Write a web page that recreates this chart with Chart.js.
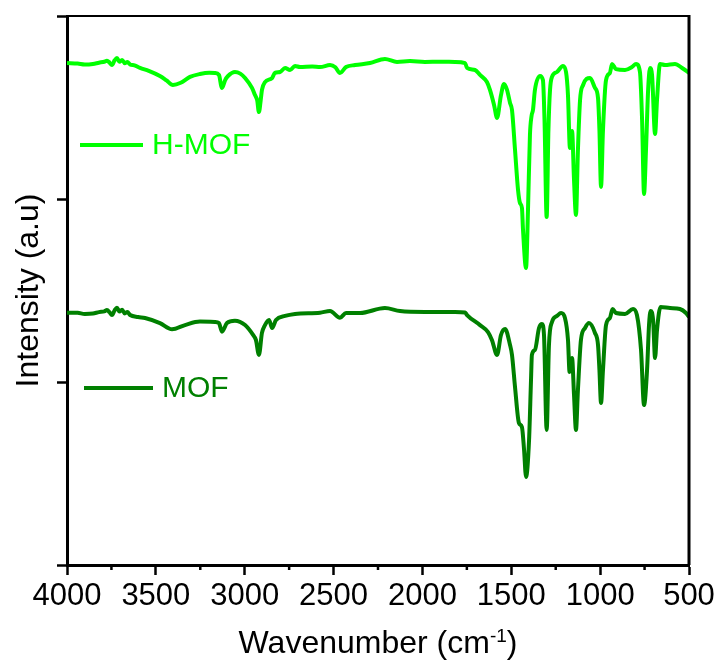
<!DOCTYPE html>
<html>
<head>
<meta charset="utf-8">
<script src="https://cdn.jsdelivr.net/npm/chart.js@4.4.1/dist/chart.umd.min.js"></script>
<style>
  html, body { margin: 0; padding: 0; background: #fff; }
  #wrap { width: 723px; height: 667px; }
</style>
</head>
<body>
<div id="wrap"><canvas id="ftirChart" width="723" height="667"></canvas></div>
<script>
// FTIR spectra, values (arbitrary units, stacked)
const hmofWave = [
  4000, 3940, 3900, 3854, 3820, 3790, 3775, 3760, 3747, 3732,
  3719, 3705, 3690, 3675, 3660, 3645, 3620, 3589, 3540, 3477,
  3440, 3404, 3360, 3308, 3252, 3200, 3167, 3145, 3128, 3110,
  3094, 3055, 3025, 2998, 2959, 2942, 2930, 2920, 2910, 2903,
  2886, 2846, 2830, 2801, 2773, 2745, 2717, 2689, 2620, 2576,
  2520, 2490, 2464, 2430, 2379, 2295, 2211, 2143, 2070, 1986,
  1900, 1817, 1760, 1749, 1704, 1676, 1637, 1620, 1597, 1580,
  1558, 1541, 1524, 1507, 1496, 1479, 1462, 1451, 1440, 1434,
  1417, 1406, 1395, 1386, 1378, 1367, 1338, 1322, 1313, 1301,
  1291, 1282, 1271, 1243, 1209, 1192, 1181, 1170, 1158, 1147,
  1136, 1125, 1113, 1096, 1057, 1029, 1012, 1004, 995, 984,
  967, 945, 933, 911, 860, 821, 798, 776, 764, 753,
  742, 730, 719, 708, 691, 680, 663, 635, 579, 539,
  500
];
const hmofIntensity = [
  2.743, 2.740, 2.735, 2.738, 2.745, 2.750, 2.756, 2.745, 2.732, 2.758,
  2.770, 2.750, 2.760, 2.742, 2.748, 2.735, 2.730, 2.716, 2.700, 2.672,
  2.648, 2.623, 2.635, 2.667, 2.683, 2.690, 2.689, 2.678, 2.607, 2.650,
  2.672, 2.694, 2.685, 2.661, 2.607, 2.568, 2.540, 2.475, 2.540, 2.596,
  2.639, 2.661, 2.689, 2.694, 2.716, 2.705, 2.727, 2.721, 2.724, 2.721,
  2.732, 2.720, 2.689, 2.721, 2.732, 2.743, 2.765, 2.749, 2.754, 2.749,
  2.750, 2.749, 2.743, 2.716, 2.705, 2.678, 2.639, 2.596, 2.514, 2.443,
  2.568, 2.628, 2.596, 2.525, 2.486, 2.268, 2.049, 1.978, 1.951, 1.831,
  1.623, 1.940, 2.350, 2.454, 2.486, 2.596, 2.672, 2.650, 2.432, 1.902,
  2.377, 2.596, 2.667, 2.694, 2.727, 2.694, 2.568, 2.279, 2.372, 2.104,
  1.913, 2.268, 2.541, 2.623, 2.661, 2.607, 2.552, 2.377, 2.066, 2.377,
  2.650, 2.689, 2.738, 2.710, 2.705, 2.721, 2.738, 2.694, 2.432, 2.027,
  2.268, 2.596, 2.716, 2.678, 2.355, 2.541, 2.738, 2.732, 2.738, 2.716,
  2.689
];

const mofWave = [
  4000, 3940, 3900, 3854, 3820, 3790, 3775, 3760, 3747, 3732,
  3719, 3705, 3690, 3675, 3660, 3645, 3600, 3561, 3477, 3409,
  3336, 3252, 3167, 3145, 3128, 3100, 3055, 2998, 2953, 2937,
  2920, 2903, 2886, 2863, 2846, 2824, 2773, 2717, 2576, 2520,
  2464, 2430, 2351, 2211, 2126, 1986, 1817, 1760, 1749, 1676,
  1631, 1609, 1580, 1558, 1535, 1507, 1496, 1479, 1457, 1440,
  1428, 1417, 1400, 1389, 1384, 1367, 1344, 1327, 1316, 1301,
  1288, 1271, 1243, 1220, 1198, 1181, 1172, 1158, 1147, 1136,
  1125, 1108, 1085, 1063, 1029, 1012, 1004, 995, 984, 967,
  945, 930, 911, 860, 815, 793, 770, 753, 736, 725,
  716, 702, 691, 680, 660, 607, 551, 517, 500
];
const mofIntensity = [
  1.379, 1.378, 1.372, 1.374, 1.382, 1.386, 1.393, 1.380, 1.366, 1.392,
  1.406, 1.385, 1.395, 1.375, 1.382, 1.366, 1.355, 1.350, 1.322, 1.288,
  1.311, 1.330, 1.328, 1.322, 1.275, 1.322, 1.335, 1.311, 1.257, 1.230,
  1.148, 1.268, 1.311, 1.339, 1.295, 1.339, 1.361, 1.372, 1.379, 1.388,
  1.351, 1.377, 1.377, 1.404, 1.388, 1.383, 1.383, 1.380, 1.366, 1.311,
  1.273, 1.230, 1.148, 1.257, 1.290, 1.202, 1.148, 0.973, 0.776, 0.754,
  0.628, 0.481, 0.683, 1.011, 1.148, 1.175, 1.295, 1.317, 1.257, 0.738,
  1.202, 1.328, 1.361, 1.377, 1.350, 1.230, 1.055, 1.131, 0.929, 0.738,
  0.956, 1.230, 1.295, 1.322, 1.268, 1.202, 1.066, 0.885, 1.066, 1.311,
  1.350, 1.399, 1.377, 1.372, 1.399, 1.366, 1.175, 0.874, 1.066, 1.311,
  1.388, 1.339, 1.131, 1.284, 1.410, 1.404, 1.399, 1.377, 1.355
];

const seriesNames = ['H-MOF', 'MOF'];
const seriesColors = ['#00ff00', '#008000'];
const xMinorTicks = [3750, 3250, 2750, 2250, 1750, 1250, 750];

const fontFamily = '"Liberation Sans", Arial, Helvetica, sans-serif';

function toPoints(xs, ys) {
  return xs.map((x, i) => ({ x: x, y: ys[i] }));
}

// frame, minor ticks, legend labels and x title with superscript
const extrasPlugin = {
  id: 'extras',
  afterDraw(chart) {
    const ctx = chart.ctx;
    const area = chart.chartArea;
    const xScale = chart.scales.x;
    ctx.save();

    ctx.strokeStyle = '#000';
    ctx.lineWidth = 2;
    ctx.beginPath();
    ctx.moveTo(area.left, area.top);
    ctx.lineTo(area.right, area.top);
    ctx.stroke();
    ctx.lineWidth = 3;
    ctx.beginPath();
    ctx.moveTo(area.right, area.top - 1);
    ctx.lineTo(area.right, area.bottom);
    ctx.stroke();

    ctx.lineWidth = 2.5;
    xMinorTicks.forEach(v => {
      const px = xScale.getPixelForValue(v);
      ctx.beginPath();
      ctx.moveTo(px, area.bottom);
      ctx.lineTo(px, area.bottom + 5);
      ctx.stroke();
    });

    // legend entries placed beside each trace
    const legendPos = [
      { x1: 80, x2: 143, y: 145, tx: 152 },
      { x1: 84, x2: 153, y: 388, tx: 162 }
    ];
    ctx.font = '30px ' + fontFamily;
    ctx.textBaseline = 'middle';
    ctx.textAlign = 'left';
    legendPos.forEach((p, i) => {
      ctx.strokeStyle = seriesColors[i];
      ctx.lineWidth = 4;
      ctx.beginPath();
      ctx.moveTo(p.x1, p.y);
      ctx.lineTo(p.x2, p.y);
      ctx.stroke();
      ctx.fillStyle = seriesColors[i];
      ctx.fillText(seriesNames[i], p.tx, p.y + 1);
    });

    // x title: Wavenumber (cm-1) with superscript
    const main = 'Wavenumber (cm';
    const sup = '-1';
    const close = ')';
    ctx.fillStyle = '#000';
    ctx.textBaseline = 'alphabetic';
    ctx.font = '32px ' + fontFamily;
    const wMain = ctx.measureText(main).width;
    const wClose = ctx.measureText(close).width;
    ctx.font = '19px ' + fontFamily;
    const wSup = ctx.measureText(sup).width;
    const total = wMain + wSup + wClose;
    let sx = (area.left + area.right) / 2 - total / 2;
    const baseY = 653;
    ctx.font = '32px ' + fontFamily;
    ctx.fillText(main, sx, baseY);
    sx += wMain;
    ctx.font = '19px ' + fontFamily;
    ctx.fillText(sup, sx, baseY - 11);
    sx += wSup;
    ctx.font = '32px ' + fontFamily;
    ctx.fillText(close, sx, baseY);

    ctx.restore();
  }
};

const ctx = document.getElementById('ftirChart').getContext('2d');
new Chart(ctx, {
  type: 'line',
  data: {
    datasets: [
      {
        label: seriesNames[0],
        data: toPoints(hmofWave, hmofIntensity),
        borderColor: seriesColors[0],
        borderWidth: 4,
        pointRadius: 0,
        fill: false,
        cubicInterpolationMode: 'monotone'
      },
      {
        label: seriesNames[1],
        data: toPoints(mofWave, mofIntensity),
        borderColor: seriesColors[1],
        borderWidth: 4,
        pointRadius: 0,
        fill: false,
        cubicInterpolationMode: 'monotone'
      }
    ]
  },
  options: {
    responsive: false,
    animation: false,
    layout: { padding: { top: 16, right: 34, left: 0, bottom: 0 } },
    plugins: {
      legend: { display: false },
      tooltip: { enabled: false }
    },
    scales: {
      x: {
        type: 'linear',
        reverse: true,
        min: 500,
        max: 4000,
        border: { color: '#000', width: 3 },
        grid: {
          drawOnChartArea: false,
          tickLength: 10,
          tickWidth: 2.5,
          tickColor: '#000'
        },
        ticks: {
          stepSize: 500,
          autoSkip: false,
          maxRotation: 0,
          padding: 3,
          color: '#000',
          font: { size: 31, family: fontFamily },
          callback: value => String(value)
        },
        afterFit(scale) { scale.height = 102; }
      },
      y: {
        min: 0,
        max: 3,
        border: { color: '#000', width: 3 },
        grid: {
          drawOnChartArea: false,
          tickLength: 10,
          tickWidth: 2.5,
          tickColor: '#000'
        },
        ticks: { stepSize: 1, display: false },
        title: {
          display: true,
          text: 'Intensity (a.u)',
          color: '#000',
          font: { size: 32, family: fontFamily },
          padding: { top: 10, bottom: 0 }
        },
        afterFit(scale) { scale.width = 67; }
      }
    }
  },
  plugins: [extrasPlugin]
});
</script>
</body>
</html>
